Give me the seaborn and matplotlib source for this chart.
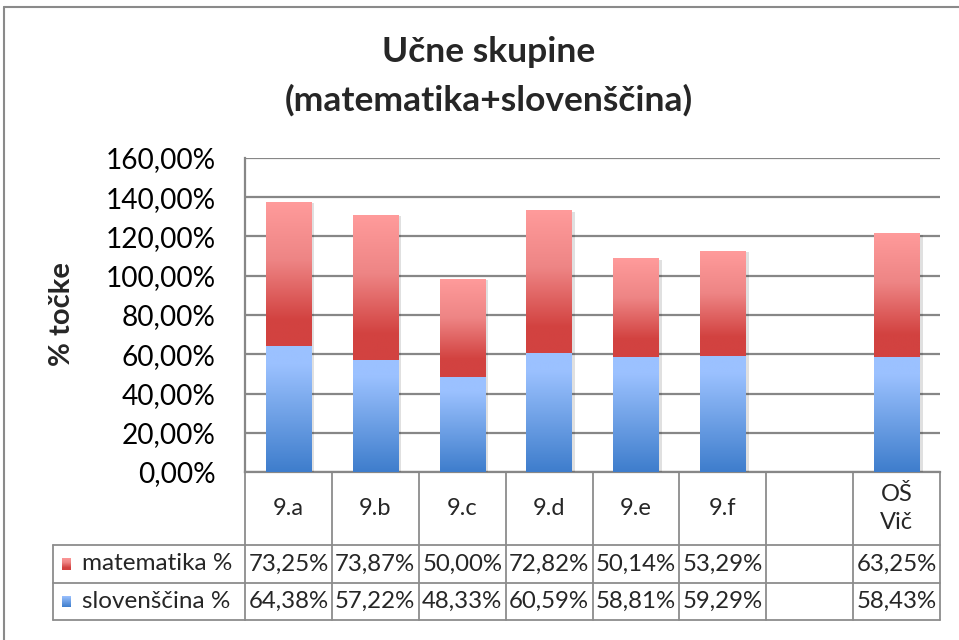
import numpy as np
import pandas as pd
import matplotlib
matplotlib.use("Agg")
import matplotlib.pyplot as plt
import seaborn as sns
from matplotlib.lines import Line2D
from matplotlib.transforms import blended_transform_factory
from matplotlib.colors import LinearSegmentedColormap
from matplotlib.ticker import FuncFormatter
import matplotlib.patheffects as pe

# ---------------- data ----------------
categories = ["9.a", "9.b", "9.c", "9.d", "9.e", "9.f", " ", "OŠ\nVič"]
matematika = [73.25, 73.87, 50.00, 72.82, 50.14, 53.29, None, 63.25]
slovenscina = [64.38, 57.22, 48.33, 60.59, 58.81, 59.29, None, 58.43]
series_names = ["matematika %", "slovenščina %"]
yticks = [0, 20, 40, 60, 80, 100, 120, 140, 160]
title_lines = ["Učne skupine", "(matematika+slovenščina)"]
ylabel = "% točke"

# ---------------- style ----------------
sns.set_theme(style="white")
plt.rcParams['font.family'] = ['Lato', 'DejaVu Sans']

W, H = 959, 640
def fx(x): return x / W
def fy(y): return 1 - y / H

GRID = "#878787"
red_cmap = LinearSegmentedColormap.from_list(
    "red", [(0.0, "#D24240"), (0.18, "#D24240"), (0.6, "#EE8585"), (1.0, "#FF9B9B")])
blue_cmap = LinearSegmentedColormap.from_list(
    "blue", [(0.0, "#3E7DCC"), (0.55, "#7AA9EC"), (0.85, "#9BC1FF"), (1.0, "#9BC1FF")])

fig = plt.figure(figsize=(W / 100, H / 100), dpi=100)
ax = fig.add_axes([fx(245), fy(472), fx(940) - fx(245), fy(158) - fy(472)])

df = pd.DataFrame({"kat": categories, "mat": matematika, "slo": slovenscina})
df = df.dropna().reset_index(drop=True)
df["total"] = df["mat"] + df["slo"]

# totals (red) first, then slovenščina (blue) over the lower part
sns.barplot(data=df, x="kat", y="total", order=categories, color="#E06060",
            width=0.52, ax=ax, zorder=3, linewidth=0)
n_red = len(ax.patches)
sns.barplot(data=df, x="kat", y="slo", order=categories, color="#6A9AE0",
            width=0.52, ax=ax, zorder=4, linewidth=0)
patches = list(ax.patches)
red_patches, blue_patches = patches[:n_red], patches[n_red:]

ax.set_xlim(-0.5, len(categories) - 0.5)
ax.set_ylim(0, 160)

slo_by_pos = {categories.index(k): v for k, v in zip(df["kat"], df["slo"])}
grad = np.linspace(0, 1, 256).reshape(-1, 1)

def fill_gradient(patch, cmap, y0, y1, z):
    x0, w = patch.get_x(), patch.get_width()
    im = ax.imshow(grad, extent=[x0, x0 + w, y0, y1], origin="lower",
                   cmap=cmap, aspect="auto", zorder=z, interpolation="bilinear")
    im.set_clip_path(patch)

shadow = [pe.SimplePatchShadow(offset=(2.5, -1.0), shadow_rgbFace="#000000", alpha=0.12), pe.Normal()]
for p in red_patches:
    pos = int(round(p.get_x() + p.get_width() / 2))
    p.set_path_effects(shadow)
    fill_gradient(p, red_cmap, slo_by_pos[pos], p.get_height(), 3.5)
for p in blue_patches:
    fill_gradient(p, blue_cmap, 0, p.get_height(), 4.5)

ax.set_xlim(-0.5, len(categories) - 0.5)
ax.set_ylim(0, 160)

# axes styling
ax.set_yticks(yticks)
ax.yaxis.set_major_formatter(FuncFormatter(lambda v, _: f"{v:.2f}".replace(".", ",") + "%"))
ax.tick_params(axis="y", labelsize=20.2, colors="black", length=0, pad=21)
ax.set_xticks([])
ax.set_xlabel("")
ax.set_ylabel("")
ax.yaxis.grid(True, color=GRID, linewidth=1.6)
ax.set_axisbelow(True)
for s in ["top", "right"]:
    ax.spines[s].set_visible(False)
for s in ["left", "bottom"]:
    ax.spines[s].set_color(GRID)
    ax.spines[s].set_linewidth(1.6)

# title & y label
fig.text(fx(489), fy(52), title_lines[0], ha="center", va="center",
         fontsize=25.5, fontweight="bold")
fig.text(fx(489), fy(100), title_lines[1], ha="center", va="center",
         fontsize=25.5, fontweight="bold")
fig.text(fx(62), fy(314), ylabel, ha="center", va="center", rotation=90,
         fontsize=21, fontweight="bold")

# chart border
fig.add_artist(Line2D([fx(4), fx(4)], [fy(7), 0], transform=fig.transFigure, color="#8a8a8a", lw=1.5))
fig.add_artist(Line2D([fx(4), 1], [fy(7), fy(7)], transform=fig.transFigure, color="#8a8a8a", lw=1.5))

# ---------------- data table ----------------
tr = blended_transform_factory(ax.transData, fig.transFigure)
TL = "#8c8c8c"
y_head_top, y_head_bot, y_row1, y_row2 = 472, 545, 583, 620
xl, xr = -0.5, len(categories) - 0.5

def hline(y, x0, x1, trans):
    ax.add_line(Line2D([x0, x1], [fy(y), fy(y)], transform=trans, color=TL, lw=1.3, clip_on=False))

for y in [y_head_bot, y_row1, y_row2]:
    hline(y, xl, xr, tr)
# legend column lines (figure coords)
xleg = fx(53)
x_ax_left = fx(245)
for y in [y_head_bot, y_row1, y_row2]:
    fig.add_artist(Line2D([xleg, x_ax_left], [fy(y), fy(y)], transform=fig.transFigure, color=TL, lw=1.3))
fig.add_artist(Line2D([xleg, xleg], [fy(y_head_bot), fy(y_row2)], transform=fig.transFigure, color=TL, lw=1.3))
for i in range(len(categories) + 1):
    xb = i - 0.5
    ax.add_line(Line2D([xb, xb], [fy(y_head_top), fy(y_row2)], transform=tr, color=TL, lw=1.3, clip_on=False))

for i, c in enumerate(categories):
    ax.text(i, fy((y_head_top + y_head_bot) / 2), c, transform=tr, ha="center", va="center",
            fontsize=17, linespacing=1.45)
    for val, yy in [(matematika[i], (y_head_bot + y_row1) / 2), (slovenscina[i], (y_row1 + y_row2) / 2)]:
        if val is not None:
            ax.text(i, fy(yy), f"{val:.2f}".replace(".", ",") + "%", transform=tr,
                    ha="center", va="center", fontsize=17.3)

# legend keys + names
for name, cmap, yy in [(series_names[0], red_cmap, (y_head_bot + y_row1) / 2),
                       (series_names[1], blue_cmap, (y_row1 + y_row2) / 2)]:
    kax = fig.add_axes([fx(62), fy(yy + 6), fx(71) - fx(62), fy(yy - 6) - fy(yy + 6)])
    kax.imshow(grad, cmap=cmap, origin="lower", aspect="auto", extent=[0, 1, 0, 1])
    kax.set_axis_off()
    fig.text(fx(82), fy(yy), name, ha="left", va="center", fontsize=17.5)

fig.savefig("out.png", dpi=100, facecolor="white")
